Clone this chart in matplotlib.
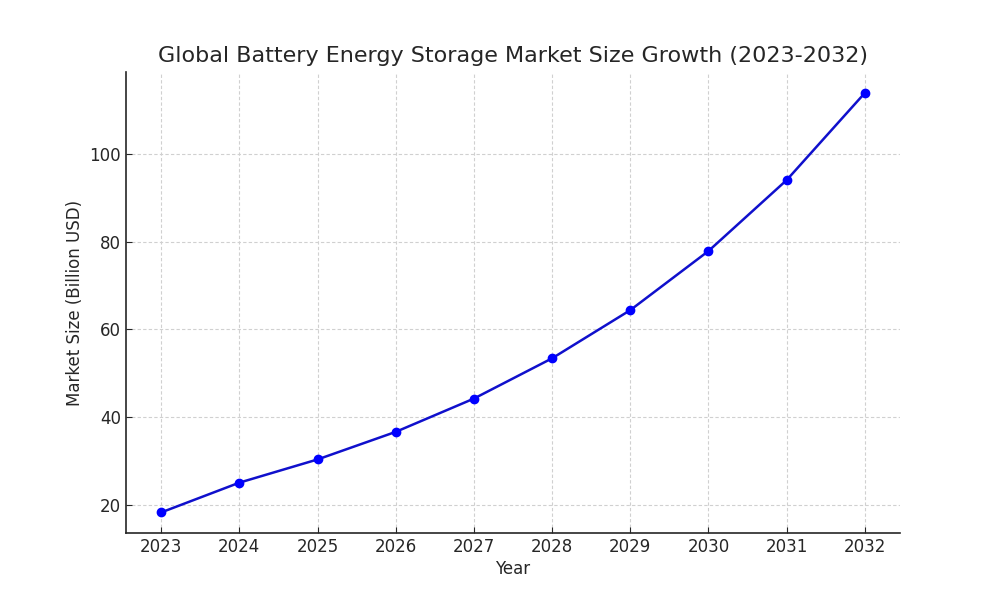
import matplotlib
matplotlib.use("Agg")
import matplotlib.pyplot as plt

plt.rcParams['font.family'] = ['DejaVu Sans']

years = [2023, 2024, 2025, 2026, 2027, 2028, 2029, 2030, 2031, 2032]
market_size = [18.2, 25.0, 30.3, 36.6, 44.2, 53.4, 64.4, 77.9, 94.1, 114.0]

fig = plt.figure(figsize=(10, 6), dpi=100)
ax = fig.add_axes([0.126, 0.111, 0.774, 0.769])
ax.plot(years, market_size, color='#1010cc', linewidth=1.8, marker='o',
        markersize=6, markerfacecolor='blue', markeredgecolor='blue')
ax.set_xticks(years)
ax.set_title('Global Battery Energy Storage Market Size Growth (2023-2032)',
             fontsize=16, color='#262626', pad=7)
ax.set_xlabel('Year', fontsize=12, color='#262626', labelpad=3)
ax.set_ylabel('Market Size (Billion USD)', fontsize=12, color='#262626')
ax.tick_params(direction='in', labelsize=12, colors='#262626', length=4)
ax.grid(True, linestyle=(0, (3, 2)), color='#d0d0d0', linewidth=0.8)
for s in ['top', 'right']:
    ax.spines[s].set_visible(False)
for s in ['left', 'bottom']:
    ax.spines[s].set_color('#262626')
    ax.spines[s].set_linewidth(1.2)
fig.savefig('out.png', dpi=100)
